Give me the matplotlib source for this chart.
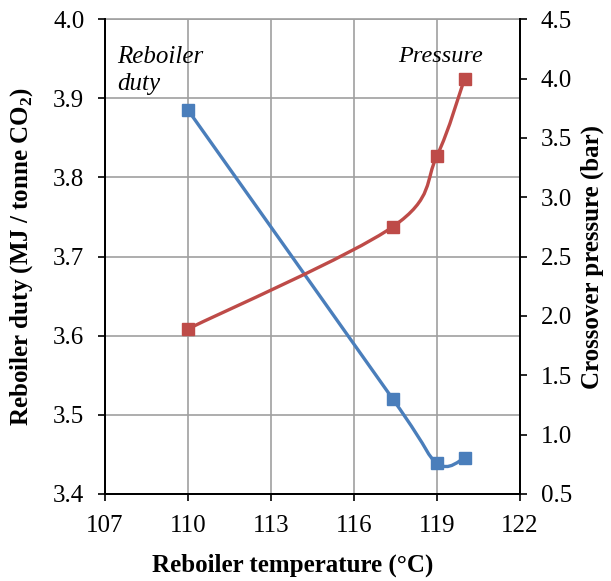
import numpy as np
import matplotlib
matplotlib.use("Agg")
import matplotlib.pyplot as plt
from matplotlib.path import Path
from matplotlib.patches import PathPatch

plt.rcParams["font.family"] = ["Liberation Serif", "DejaVu Serif"]
plt.rcParams["mathtext.fontset"] = "custom"
plt.rcParams["mathtext.rm"] = "Liberation Serif"
plt.rcParams["mathtext.bf"] = "Liberation Serif:bold"

temperature = [110, 117.4, 119, 120]
reboiler_duty = [3.885, 3.52, 3.439, 3.445]
pressure = [1.89, 2.75, 3.35, 4.0]

x_ticks = [107, 110, 113, 116, 119, 122]
duty_ticks = [3.4, 3.5, 3.6, 3.7, 3.8, 3.9, 4.0]
pressure_ticks = [0.5, 1.0, 1.5, 2.0, 2.5, 3.0, 3.5, 4.0, 4.5]

BLUE = "#4a7ebb"
RED = "#be4b48"
FS = 18


def smooth_path(ax, xs, ys, color, tension=0.5):
    # Excel-style smoothed line: cubic Bezier segments with Catmull-Rom control points
    pts = np.column_stack([xs, ys]).astype(float)
    disp = ax.transData.transform(pts)
    n = len(disp)
    verts = [disp[0]]
    codes = [Path.MOVETO]
    for i in range(n - 1):
        p0 = disp[i - 1] if i > 0 else disp[i]
        p1 = disp[i]
        p2 = disp[i + 1]
        p3 = disp[i + 2] if i + 2 < n else disp[i + 1]
        c1 = p1 + (p2 - p0) * tension / 3
        c2 = p2 - (p3 - p1) * tension / 3
        verts += [c1, c2, p2]
        codes += [Path.CURVE4] * 3
    verts = ax.transData.inverted().transform(np.array(verts))
    patch = PathPatch(Path(verts, codes), facecolor="none", edgecolor=color,
                      lw=2.4, zorder=3)
    ax.add_patch(patch)


fig = plt.figure(figsize=(6.11, 5.81), dpi=100)
ax = fig.add_axes([0.172, 0.15, 0.679, 0.817])
ax2 = ax.twinx()

ax.set_xlim(107, 122)
ax.set_ylim(3.4, 4.0)
ax2.set_ylim(0.5, 4.5)
ax.set_xticks(x_ticks)
ax.set_yticks(duty_ticks)
ax2.set_yticks(pressure_ticks)
ax.set_yticklabels([f"{v:.1f}" for v in duty_ticks])
ax2.set_yticklabels([f"{v:.1f}" for v in pressure_ticks])

ax.grid(True, color="#a0a0a0", lw=1.2)
ax.set_axisbelow(True)
for a in (ax, ax2):
    a.spines["top"].set_visible(False)
    a.tick_params(direction="out", length=5, width=1.2, labelsize=FS, pad=10)
    for s in ("left", "right", "bottom"):
        a.spines[s].set_linewidth(1.3)
ax.plot([107, 122], [4.0, 4.0], color="#a0a0a0", lw=1.2, clip_on=False, zorder=1)

fig.canvas.draw()
smooth_path(ax, temperature, reboiler_duty, BLUE)
smooth_path(ax2, temperature, pressure, RED)
ax.plot(temperature, reboiler_duty, "s", color=BLUE, ms=8, zorder=4)
ax2.plot(temperature, pressure, "s", color=RED, ms=8, zorder=4)

ax.set_xlabel("Reboiler temperature (°C)", fontsize=FS, fontweight="bold")
ax.xaxis.set_label_coords(0.453, -0.125)
ax.set_ylabel(r"Reboiler duty (MJ / tonne CO$_\mathbf{2}$)", fontsize=FS,
              fontweight="bold", labelpad=13)
ax2.set_ylabel("Crossover pressure (bar)", fontsize=FS, fontweight="bold", labelpad=6)

ax.text(107.45, 3.944, "Reboiler", fontsize=FS, style="italic",
        ha="left", va="baseline")
ax.text(107.45, 3.910, "duty", fontsize=FS, style="italic",
        ha="left", va="baseline")
ax2.text(120.65, 4.138, "Pressure", fontsize=FS - 0.5, style="italic",
         ha="right", va="baseline")

fig.savefig("out.png", dpi=100)
